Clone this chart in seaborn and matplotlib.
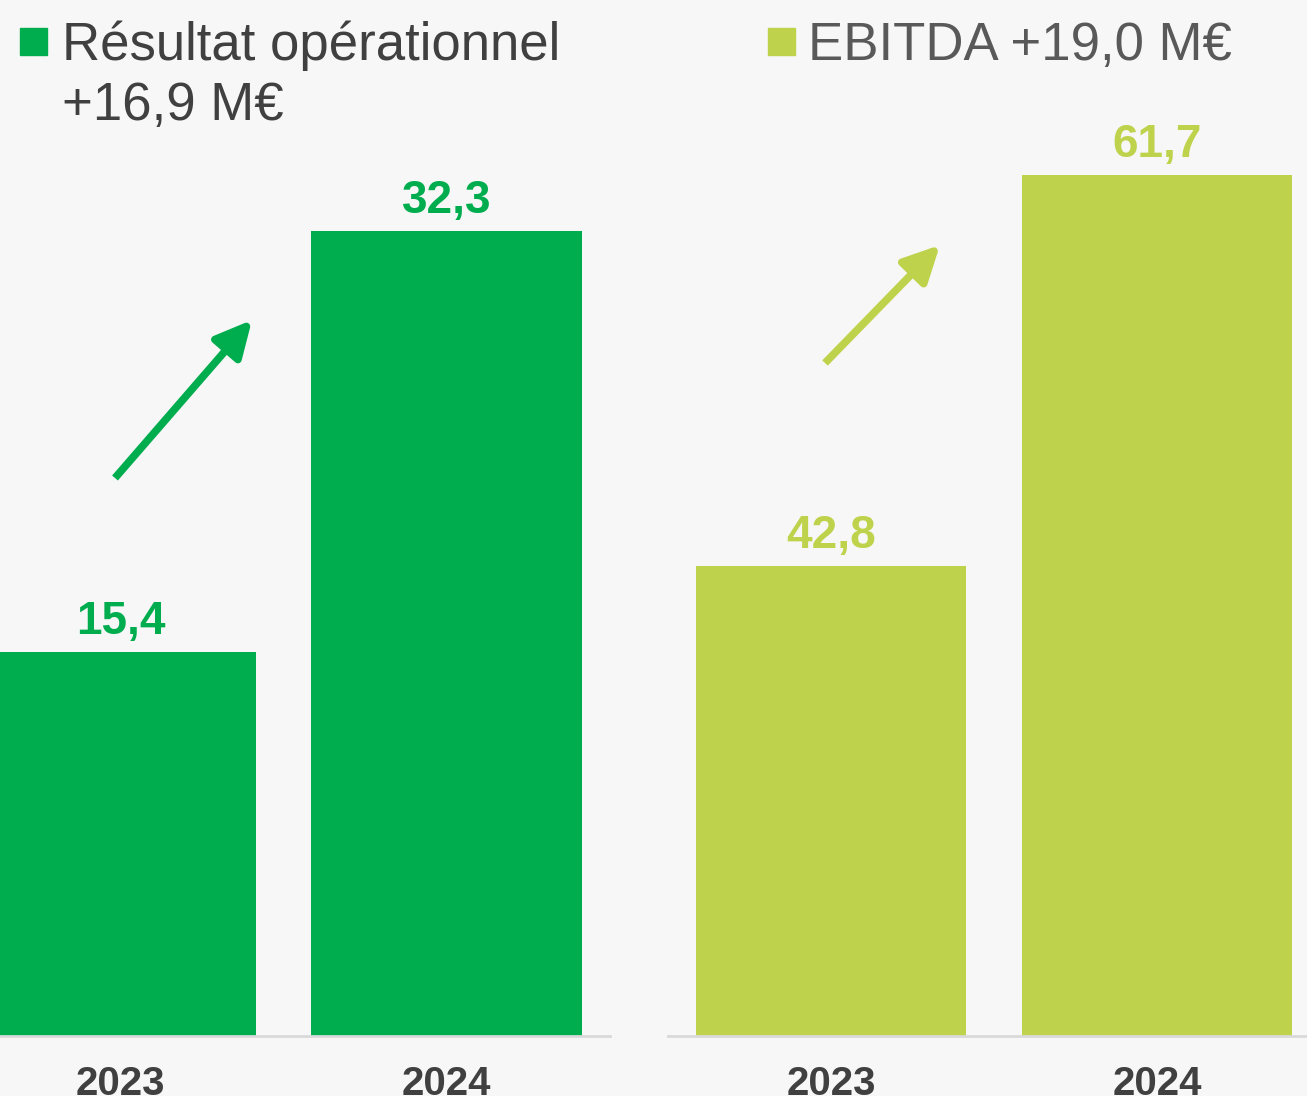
import matplotlib
matplotlib.use("Agg")
import matplotlib.pyplot as plt
import seaborn as sns
import pandas as pd
from matplotlib.patches import Rectangle, FancyArrowPatch

years = ["2023", "2024"]
resultat_op = [15.4, 32.3]
ebitda = [42.8, 61.7]
title_left = ["Résultat opérationnel", "+16,9 M€"]
title_right = "EBITDA +19,0 M€"
value_labels_left = ["15,4", "32,3"]
value_labels_right = ["42,8", "61,7"]

GREEN = "#00AD4E"
LIME = "#BED34B"
BG = "#F7F7F7"
W, H = 1307, 1096

sns.set_theme(style="white")
plt.rcParams["font.family"] = ["Liberation Sans", "DejaVu Sans"]

fig = plt.figure(figsize=(W / 100, H / 100), dpi=100, facecolor=BG)

base = (H - 1036) / H
axL = fig.add_axes([0 / W, base, 610 / W, 1 - base])
axR = fig.add_axes([668 / W, base, (W - 668) / W, 1 - base])

def draw(ax, vals, labels, color, ylim, xlim):
    df = pd.DataFrame({"year": years, "value": vals})
    sns.barplot(data=df, x="year", y="value", color=color, width=0.83,
                saturation=1, ax=ax)
    ax.set_facecolor(BG)
    ax.set_xlim(*xlim)
    ax.set_ylim(*ylim)
    for s in ["top", "left", "right"]:
        ax.spines[s].set_visible(False)
    ax.spines["bottom"].set_color("#D9D9D9")
    ax.spines["bottom"].set_linewidth(2)
    ax.set_yticks([])
    ax.set_xlabel("")
    ax.set_ylabel("")
    ax.tick_params(axis="x", length=0, pad=21)
    for t in ax.get_xticklabels():
        t.set_fontsize(29)
        t.set_fontweight("bold")
        t.set_color("#404040")
    ax.bar_label(ax.containers[0], labels=labels, padding=6, fontsize=33,
                 fontweight="bold", color=color)
    for b in ax.patches:
        b.set_edgecolor("none")

draw(axL, resultat_op, value_labels_left, GREEN, (0, 1036 / 24.91), (-0.37, 1.502))
draw(axR, ebitda, value_labels_right, LIME, (20.08, 20.08 + 1036 / 20.69), (-0.5, 1.46))

# legends / titles
fig.patches.append(Rectangle((20 / W, 1 - 55 / H), 27 / W, 27 / H,
                             transform=fig.transFigure, color=GREEN))
for i, line in enumerate(title_left):
    fig.text(62 / W, 1 - (60 + 60 * i) / H, line, fontsize=38, color="#404040",
             va="baseline", ha="left")
fig.patches.append(Rectangle((768 / W, 1 - 55 / H), 27 / W, 27 / H,
                             transform=fig.transFigure, color=LIME))
fig.text(808 / W, 1 - 60 / H, title_right, fontsize=38, color="#595959",
         va="baseline", ha="left")

# arrows
def arrow(x0, y0, x1, y1, color):
    fig.add_artist(FancyArrowPatch(
        (x0 / W, 1 - y0 / H), (x1 / W, 1 - y1 / H), transform=fig.transFigure,
        arrowstyle="-|>,head_length=1.1,head_width=0.55", mutation_scale=20,
        lw=5.5, color=color, shrinkA=0, shrinkB=0, capstyle="butt"))

arrow(115, 478, 252, 320, GREEN)
arrow(825, 363, 940, 245, LIME)

fig.savefig("out.png", dpi=100, facecolor=BG)
